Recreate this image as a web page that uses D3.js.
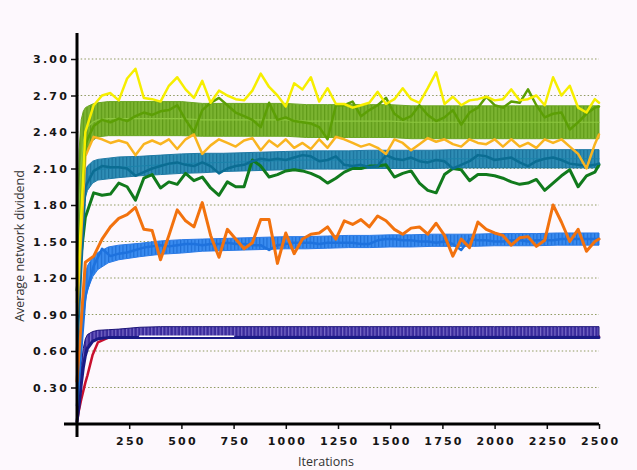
<!DOCTYPE html>
<html><head><meta charset="utf-8">
<script src="https://cdn.jsdelivr.net/npm/d3@7"></script>
<style>
html,body{margin:0;padding:0;background:#fdf8fd;}
svg{display:block;}
.tick text{font-family:"DejaVu Sans",Verdana,sans-serif;font-weight:bold;font-size:11px;fill:#151515;letter-spacing:2.2px;}
.title{font-family:"Open Sans","Noto Sans",sans-serif;font-size:12.5px;fill:#333;}
</style></head><body>
<svg id="c" width="637" height="470"></svg>
<script>
// ---------- data ----------
const ITER = d3.range(0, 2500, 40).concat([2500]);   // sample grid of noisy runs
const BAND_IT = [0,10,20,30,40,50,75,100,150,200,300,400,500,600,700,800,900,1000,1100,1200,1300,1400,1500,1600,1700,1800,1900,2000,2100,2200,2300,2400,2500];
const Y_TICKS = [0.3,0.6,0.9,1.2,1.5,1.8,2.1,2.4,2.7,3.0];
const X_TICKS = [250,500,750,1000,1250,1500,1750,2000,2250,2500];

const yellow = [1.00,2.40,2.62,2.70,2.72,2.66,2.84,2.92,2.68,2.67,
 2.65,2.78,2.85,2.75,2.68,2.82,2.64,2.74,2.70,2.67,
 2.66,2.74,2.88,2.77,2.70,2.61,2.80,2.75,2.85,2.65,
 2.76,2.63,2.63,2.60,2.62,2.64,2.73,2.63,2.67,2.76,
 2.67,2.64,2.76,2.89,2.63,2.69,2.62,2.66,2.67,2.69,
 2.66,2.67,2.75,2.66,2.67,2.70,2.62,2.85,2.70,2.78,
 2.60,2.56,2.67,2.64];
const lime = [1.20,2.30,2.45,2.50,2.48,2.51,2.49,2.53,2.56,2.54,
 2.57,2.58,2.62,2.50,2.40,2.58,2.64,2.68,2.62,2.56,
 2.53,2.50,2.44,2.64,2.50,2.52,2.49,2.48,2.47,2.44,
 2.34,2.62,2.62,2.65,2.53,2.58,2.62,2.68,2.55,2.50,
 2.53,2.62,2.54,2.49,2.52,2.58,2.46,2.56,2.60,2.69,
 2.62,2.60,2.65,2.64,2.75,2.62,2.52,2.55,2.56,2.42,
 2.48,2.55,2.60,2.61];
const gold = [0.90,2.20,2.36,2.34,2.31,2.33,2.31,2.21,2.30,2.33,
 2.30,2.34,2.26,2.34,2.38,2.22,2.29,2.34,2.31,2.28,
 2.33,2.35,2.25,2.33,2.28,2.34,2.27,2.31,2.26,2.34,
 2.27,2.36,2.34,2.31,2.28,2.30,2.27,2.22,2.34,2.31,
 2.25,2.30,2.35,2.32,2.34,2.30,2.28,2.34,2.31,2.30,
 2.34,2.28,2.34,2.28,2.31,2.27,2.34,2.31,2.34,2.28,
 2.22,2.10,2.30,2.38];
const tealRun = [0.60,1.95,2.08,2.12,2.11,2.11,2.10,2.04,2.07,2.10,
 2.12,2.14,2.15,2.13,2.12,2.15,2.12,2.06,2.10,2.12,
 2.13,2.16,2.18,2.17,2.18,2.17,2.19,2.21,2.20,2.16,
 2.17,2.20,2.13,2.12,2.13,2.11,2.12,2.21,2.18,2.17,
 2.19,2.16,2.15,2.17,2.16,2.10,2.13,2.16,2.21,2.20,
 2.17,2.18,2.19,2.15,2.12,2.16,2.18,2.19,2.17,2.14,
 2.13,2.12,2.13,2.14];
const darkGreen = [1.10,1.70,1.90,1.88,1.89,1.98,1.95,1.84,2.02,2.05,
 1.94,1.99,1.97,2.06,2.00,2.03,1.94,1.88,1.99,1.95,
 1.95,2.17,2.12,2.03,2.05,2.08,2.09,2.08,2.06,2.03,
 1.98,2.02,2.07,2.10,2.10,2.12,2.12,2.13,2.03,2.06,
 2.08,1.98,1.92,1.90,2.05,2.10,2.09,2.00,2.05,2.05,
 2.04,2.02,1.99,1.97,1.98,2.01,1.92,1.98,2.04,2.09,
 1.95,2.04,2.07,2.13];
const orange = [0.35,1.33,1.38,1.52,1.62,1.69,1.72,1.78,1.60,1.59,
 1.35,1.55,1.76,1.67,1.62,1.82,1.55,1.37,1.60,1.52,
 1.44,1.49,1.68,1.68,1.32,1.57,1.40,1.52,1.56,1.57,
 1.62,1.52,1.67,1.64,1.68,1.62,1.71,1.67,1.60,1.56,
 1.61,1.62,1.56,1.65,1.55,1.38,1.52,1.45,1.66,1.60,
 1.57,1.55,1.47,1.53,1.54,1.46,1.51,1.80,1.66,1.50,
 1.60,1.42,1.50,1.52];
const blueRun = [0.15,1.05,1.30,1.44,1.38,1.40,1.41,1.43,1.45,1.46,
 1.47,1.46,1.47,1.48,1.48,1.47,1.48,1.48,1.49,1.48,
 1.48,1.47,1.47,1.43,1.47,1.48,1.49,1.49,1.49,1.48,
 1.49,1.49,1.49,1.49,1.48,1.48,1.51,1.52,1.52,1.51,
 1.51,1.50,1.50,1.49,1.50,1.48,1.43,1.52,1.51,1.51,
 1.50,1.50,1.51,1.51,1.50,1.51,1.51,1.51,1.52,1.52,
 1.52,1.52,1.52,1.52];

const greenMean = [1.20,1.80,2.15,2.32,2.40,2.44,2.48,2.50,2.51,2.51,
 2.51,2.51,2.51,2.50,2.50,2.50,2.50,2.50,2.49,2.49,2.49,2.49,2.49,2.48,2.48,2.48,2.48,2.48,2.48,2.48,2.48,2.48,2.48];
const greenHW = [0.10,0.45,0.35,0.25,0.20,0.17,0.15,0.14,0.14,0.14,
 0.14,0.14,0.14,0.135,0.135,0.135,0.135,0.135,0.135,0.135,0.135,0.135,0.135,0.135,0.135,0.135,0.135,0.135,0.135,0.135,0.135,0.135,0.135];
const tealMean = [0.90,1.35,1.70,1.88,1.97,2.02,2.07,2.09,2.10,2.11,
 2.12,2.13,2.14,2.145,2.15,2.155,2.16,2.165,2.17,2.17,2.17,2.175,2.175,2.175,2.175,2.18,2.18,2.18,2.18,2.18,2.18,2.18,2.18];
const tealHW = [0.05,0.20,0.18,0.14,0.11,0.10,0.09,0.085,0.085,0.085,
 0.08,0.08,0.08,0.08,0.075,0.075,0.075,0.075,0.075,0.075,0.075,0.075,0.075,0.075,0.075,0.075,0.075,0.075,0.075,0.075,0.075,0.075,0.075];
const blueMean = [0.15,0.45,0.75,0.98,1.12,1.20,1.29,1.34,1.39,1.41,
 1.43,1.45,1.46,1.47,1.475,1.48,1.485,1.49,1.49,1.495,1.50,1.50,1.505,1.505,1.51,1.51,1.51,1.515,1.515,1.515,1.52,1.52,1.52];
const blueHW = [0.05,0.10,0.15,0.14,0.12,0.10,0.08,0.07,0.065,0.06,
 0.055,0.055,0.055,0.05,0.05,0.05,0.05,0.05,0.05,0.05,0.05,0.05,0.05,0.05,0.05,0.05,0.05,0.05,0.05,0.05,0.05,0.05,0.05];
const navyMean = [0.05,0.22,0.42,0.56,0.65,0.69,0.725,0.735,0.74,0.745,
 0.755,0.76,0.76,0.76,0.76,0.76,0.76,0.76,0.76,0.76,0.76,0.76,0.76,0.76,0.76,0.76,0.76,0.76,0.76,0.76,0.76,0.76,0.76];
const navyHW = [0.03,0.05,0.06,0.06,0.05,0.045,0.035,0.035,0.035,0.035,
 0.04,0.04,0.04,0.04,0.04,0.04,0.04,0.04,0.04,0.04,0.04,0.04,0.04,0.04,0.04,0.04,0.04,0.04,0.04,0.04,0.04,0.04,0.04];
const navyRun = [0.02,0.15,0.32,0.46,0.56,0.62,0.68,0.70,0.71,0.71,
 0.71,0.71,0.71,0.71,0.71,0.71,0.71,0.71,0.71,0.71,0.71,0.71,0.71,0.71,0.71,0.71,0.71,0.71,0.71,0.71,0.71,0.71,0.71];
const redRun = [0.02,0.12,0.20,0.27,0.34,0.40,0.57,0.67,0.71,0.72,
 0.72,0.72,0.72,0.72,0.72,0.72,0.72,0.72,0.72,0.72,0.72,0.72,0.72,0.72,0.72,0.72,0.72,0.72,0.72,0.72,0.72,0.72,0.72];
const WHITE_IT = [300,400,500,600,700,750];
const whiteRun = [0.722,0.722,0.722,0.722,0.722,0.722];

// ---------- layout ----------
const svg = d3.select("#c");
svg.append("rect").attr("width",637).attr("height",470).attr("fill","#fdf8fd");
const x = d3.scaleLinear().domain([0,2500]).range([77,599]);
const y = d3.scaleLinear().domain([0,3]).range([424,59]);

const defs = svg.append("defs");
function stripes(id, base, stripe, w){
  const p = defs.append("pattern").attr("id",id).attr("patternUnits","userSpaceOnUse")
    .attr("width",w).attr("height",10);
  p.append("rect").attr("width",w).attr("height",10).attr("fill",base);
  p.append("rect").attr("width",1.2).attr("height",10).attr("fill",stripe);
}
stripes("pGreen","#7bb431","#5f9a18",3.6);
stripes("pTeal","#2f8db5","#1a729c",3.6);
stripes("pBlue","#3a8cf0","#1f6fd6",3.6);
stripes("pNavy","#3a2b9c","#7a6cc8",3.6);

// grid
svg.append("g").selectAll("line").data(Y_TICKS).join("line")
  .attr("x1",x(0)).attr("x2",x(2500)).attr("y1",d=>y(d)).attr("y2",d=>y(d))
  .attr("stroke","#8f9a60").attr("stroke-width",1).attr("stroke-dasharray","1.5,2.2");

const plot = svg.append("g");
function band(mean, hw, fill, edge){
  const a = d3.area().x((d,i)=>x(BAND_IT[i])).y0((d,i)=>y(mean[i]-hw[i])).y1((d,i)=>y(mean[i]+hw[i]));
  plot.append("path").attr("d",a(mean)).attr("fill",fill).attr("stroke",edge).attr("stroke-width",1);
}
function run(vals, its, color, w){
  const l = d3.line().x((d,i)=>x(its[i])).y(d=>y(d));
  plot.append("path").attr("d",l(vals)).attr("fill","none").attr("stroke",color)
    .attr("stroke-width",w).attr("stroke-linejoin","round").attr("stroke-linecap","round");
}

run(redRun, BAND_IT, "#c8102e", 2.5);
band(navyMean, navyHW, "url(#pNavy)", "#1c1478");
run(navyRun, BAND_IT, "#1a1a86", 3);
run(whiteRun, WHITE_IT, "#ffffff", 1.5);
band(blueMean, blueHW, "url(#pBlue)", "#2a7ae6");
run(blueRun, ITER, "#1e72de", 2.5);
band(tealMean, tealHW, "url(#pTeal)", "#1f7aa5");
run(tealMean, BAND_IT, "#1a82aa", 1);
band(greenMean, greenHW, "url(#pGreen)", "#6aa524");
run(greenMean, BAND_IT, "#8cc63f", 1.2);
run(orange, ITER, "#f2720e", 3);
run(darkGreen, ITER, "#117a1c", 3);
run(tealRun, ITER, "#0b6d93", 2.5);
run(gold, ITER, "#f9b420", 2.5);
run(lime, ITER, "#5c9f05", 2.5);
run(yellow, ITER, "#f6ee00", 2.5);

// axes
const yAx = svg.append("g").attr("transform",`translate(${x(0)},0)`)
  .call(d3.axisLeft(y).tickValues(Y_TICKS).tickFormat(d3.format(".2f")).tickSize(6).tickPadding(2).tickSizeOuter(0));
yAx.select(".domain").remove();
yAx.selectAll(".tick line").attr("stroke","#111").attr("stroke-width",1.5);
const xAx = svg.append("g").attr("transform",`translate(0,${y(0)})`)
  .call(d3.axisBottom(x).tickValues(X_TICKS).tickFormat(d3.format("d")).tickSize(5).tickPadding(8).tickSizeOuter(0));
xAx.select(".domain").remove();
xAx.selectAll(".tick line").attr("stroke","#111").attr("stroke-width",1.5);
xAx.selectAll(".tick text").attr("dx","1.1px");

svg.append("line").attr("x1",x(0)).attr("x2",x(0)).attr("y1",33).attr("y2",437)
  .attr("stroke","#000").attr("stroke-width",3);
svg.append("line").attr("x1",64).attr("x2",x(2500)).attr("y1",y(0)).attr("y2",y(0))
  .attr("stroke","#000").attr("stroke-width",3);

svg.append("text").attr("class","title").attr("transform","translate(24,246) rotate(-90)")
  .attr("text-anchor","middle").text("Average network dividend");
svg.append("text").attr("class","title").attr("x",326).attr("y",466)
  .attr("text-anchor","middle").text("Iterations");
</script>
</body></html>
